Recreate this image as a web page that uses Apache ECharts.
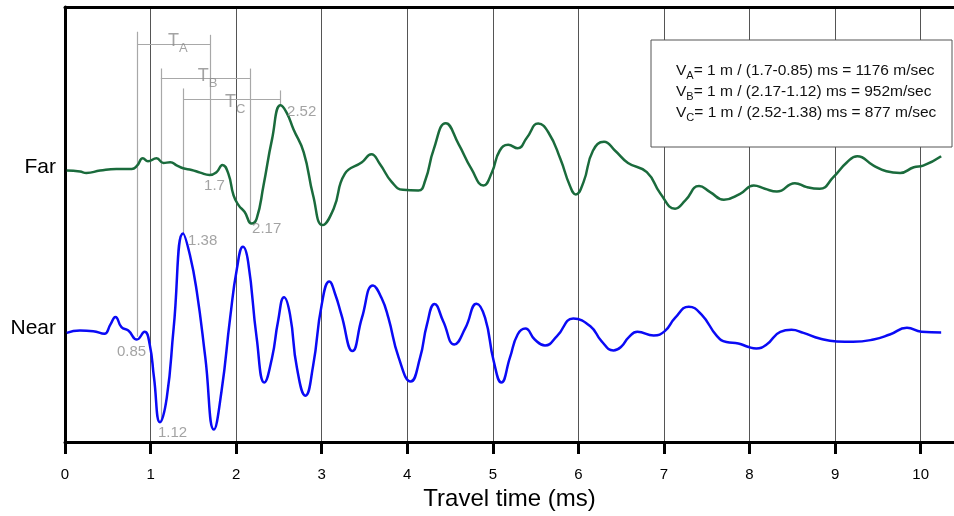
<!DOCTYPE html>
<html>
<head>
<meta charset="utf-8">
<title>Travel time</title>
<script src="https://cdn.jsdelivr.net/npm/echarts@6/dist/echarts.min.js"></script>
<style>
    html, body { margin: 0; padding: 0; background: #fff; }
    #chart { width: 954px; height: 516px; }
</style>
</head>
<body>
<div id="chart"></div>
<script>
(function () {
    "use strict";

    // far receiver trace: travel time (ms) / amplitude above its baseline
    var farTime = [0.02, 0.175, 0.25, 0.41, 0.6, 0.78, 0.84, 0.91, 0.97, 1.07, 1.15, 1.23, 1.31, 1.38, 1.48, 1.58,
        1.69, 1.77, 1.84, 1.91, 1.97, 2.03, 2.10, 2.18, 2.24, 2.32, 2.42, 2.52, 2.59, 2.67, 2.79, 2.90, 3.01, 3.14,
        3.27, 3.47, 3.58, 3.68, 3.82, 3.95, 4.13, 4.21, 4.31, 4.45, 4.60, 4.75, 4.89, 4.99, 5.08, 5.18, 5.29, 5.40,
        5.53, 5.65, 5.79, 5.90, 5.97, 6.06, 6.17, 6.30, 6.43, 6.58, 6.80, 6.96, 7.13, 7.25, 7.41, 7.54, 7.70, 7.89,
        8.05, 8.18, 8.32, 8.53, 8.67, 8.82, 8.98, 9.14, 9.26, 9.45, 9.60, 9.76, 9.92, 10.03, 10.24];
    var farAmp = [-0.7, -1.7, -3, -0.7, 1, 1, 4, 11.7, 8.7, 11.7, 7, 7.7, 4.3, 1.7, 0, -2.7,
        -5, -2.3, 5, -4, -25.7, -35.7, -42.3, -54, -49, -15.7, 31, 65, 57.7, 41, 17.7, -25.7, -55.5, -39,
        -4, 7.7, 15.7, 6, -12.3, -20, -20.7, -10.7, 21, 47, 26, 1, -15.7, -2.3, 19.3, 25.3, 21.7, 32.7,
        46.7, 37.7, 11, -15.7, -24.7, -12.3, 19.3, 28.3, 19.3, 7, -2.3, -24, -39, -30.7, -16.3, -22.3, -30, -24,
        -15.7, -19, -21.7, -13.3, -17.3, -19, -7.3, 7.7, 13.7, 4.3, -1.3, -3, 2.7, 4.3, 13.7];

    // near receiver trace
    var nearTime = [0.02, 0.175, 0.33, 0.46, 0.53, 0.59, 0.66, 0.74, 0.84, 0.93, 0.99, 1.04, 1.11, 1.19, 1.27, 1.38,
        1.46, 1.54, 1.64, 1.74, 1.83, 1.93, 2.01, 2.08, 2.14, 2.24, 2.33, 2.42, 2.49, 2.56, 2.63, 2.71, 2.81, 2.90,
        3.00, 3.09, 3.16, 3.23, 3.36, 3.47, 3.60, 3.70, 3.78, 3.90, 4.04, 4.15, 4.23, 4.32, 4.42, 4.55, 4.68, 4.81,
        4.91, 5.01, 5.10, 5.20, 5.29, 5.38, 5.49, 5.61, 5.75, 5.94, 6.14, 6.27, 6.41, 6.50, 6.59, 6.69, 6.88, 7.01,
        7.13, 7.29, 7.44, 7.62, 7.73, 7.87, 7.99, 8.08, 8.20, 8.36, 8.49, 8.63, 8.82, 9.02, 9.21, 9.45, 9.64, 9.84,
        10.01, 10.24];
    var nearAmp = [0, 2.3, 1.7, -1, 8.3, 16, 5.7, 2.3, -6.7, 1, -11.7, -45, -90, -65, 5, 100,
        78.3, 41.7, -25, -97.3, -58.3, 15, 65, 86.7, 71.7, -5, -50, -25, 11.7, 35.7, 18.3, -35, -63.3, -33,
        28.3, 51.7, 38.3, 18.3, -18.3, 15, 47.7, 35, 15, -25, -49, -25, 8.3, 29, 11.7, -11.7, 5, 29.3,
        15, -28.3, -50, -25, -1.7, 4.3, -6.7, -12.7, -3.3, 14.3, 6.7, -8.3, -17.7, -14, -4.3, 1, -2.7, 1.7,
        15, 26.3, 18.3, -3.3, -9.3, -10.7, -14.3, -15.7, -11.7, 1, 3, 0, -5.7, -8.7, -9, -6.7, -1.7, 5,
        1, 0.3];

    var farBase = 274;
    var nearBase = 110;
    var xTicks = [0, 1, 2, 3, 4, 5, 6, 7, 8, 9, 10];

    // picked times and the brackets between them
    var bracketNames = ['A', 'B', 'C'];
    var bracketStart = [0.85, 1.12, 1.38];
    var bracketEnd = [1.7, 2.17, 2.52];
    var bracketLevel = [401, 366.7, 345];
    var bracketStartTop = [413, 376, 356];
    var bracketEndTop = [410, 376, 354];
    var bracketStartFoot = [106, 20, 210];
    var bracketEndFoot = [270, 221, 339];
    var bracketLabelT = [1.204, 1.551, 1.870];
    var bracketLabelY = [403.5, 368.3, 342];

    var pickText = ['2.52', '1.7', '2.17', '1.38', '0.85', '1.12'];
    var pickLabelT = [2.595, 1.625, 2.186, 1.438, 0.608, 1.087];
    var pickLabelY = [332, 258.3, 215, 202.3, 91, 9];

    var velocityLines = [
        ['A', '= 1 m / (1.7-0.85) ms = 1176 m/sec'],
        ['B', '= 1 m / (2.17-1.12) ms = 952m/sec'],
        ['C', '= 1 m / (2.52-1.38) ms = 877 m/sec']
    ];

    var FONT = '"Liberation Sans", Arial, Helvetica, sans-serif';
    var GRAY = '#8c8c8c';

    var farData = farTime.map(function (t, i) { return [t, farBase + farAmp[i]]; });
    var nearData = nearTime.map(function (t, i) { return [t, nearBase + nearAmp[i]]; });

    var bracketLines = [];
    for (var i = 0; i < bracketNames.length; i++) {
        bracketLines.push([{coord: [bracketStart[i], bracketStartTop[i]]}, {coord: [bracketStart[i], bracketStartFoot[i]]}]);
        bracketLines.push([{coord: [bracketEnd[i], bracketEndTop[i]]}, {coord: [bracketEnd[i], bracketEndFoot[i]]}]);
        bracketLines.push([{coord: [bracketStart[i], bracketLevel[i]]}, {coord: [bracketEnd[i], bracketLevel[i]]}]);
    }

    var textData = [];
    for (var j = 0; j < pickText.length; j++) {
        textData.push({value: [pickLabelT[j], pickLabelY[j]], text: pickText[j], kind: 'pick'});
    }
    for (var k = 0; k < bracketNames.length; k++) {
        textData.push({value: [bracketLabelT[k], bracketLabelY[k]], text: bracketNames[k], kind: 'bracket'});
    }

    var legendText = velocityLines.map(function (l) {
        return '{n|V}{s|' + l[0] + '}{n|' + l[1] + '}';
    }).join('\n');

    var myChart = echarts.init(document.getElementById('chart'));
    var option = {
        backgroundColor: '#fff',
        animation: false,
        grid: {left: 65, right: 0, top: 7, bottom: 71},
        xAxis: [
            {
                type: 'value',
                min: 0,
                max: 10.39,
                interval: 1,
                name: 'Travel time (ms)',
                nameLocation: 'middle',
                nameGap: 43,
                nameTextStyle: {fontFamily: FONT, fontSize: 24, color: '#000'},
                axisLine: {show: true, onZero: false, lineStyle: {color: '#000', width: 3}},
                axisTick: {show: true, customValues: xTicks, length: 12, lineStyle: {color: '#000', width: 3}},
                axisLabel: {customValues: xTicks, margin: 25, fontFamily: FONT, fontSize: 15, color: '#000'},
                splitLine: {show: true, lineStyle: {color: '#555', width: 1}}
            },
            {
                type: 'value',
                position: 'top',
                min: 0,
                max: 10.39,
                axisLine: {show: true, onZero: false, lineStyle: {color: '#000', width: 3}},
                axisTick: {show: false},
                axisLabel: {show: false},
                splitLine: {show: false}
            }
        ],
        yAxis: {
            type: 'value',
            min: 0,
            max: 438,
            axisLine: {show: true, onZero: false, lineStyle: {color: '#000', width: 3}},
            axisTick: {show: false},
            splitLine: {show: false},
            axisLabel: {
                customValues: [farBase + 3, nearBase + 5],
                margin: 9,
                fontFamily: FONT,
                fontSize: 21,
                color: '#000',
                formatter: function (v) { return v > 200 ? 'Far' : 'Near'; }
            }
        },
        series: [
            {
                name: 'Far',
                type: 'line',
                smooth: 0.5,
                symbol: 'none',
                data: farData,
                lineStyle: {color: '#1a6b3c', width: 2.5},
                z: 3,
                markLine: {
                    silent: true,
                    symbol: 'none',
                    label: {show: false},
                    lineStyle: {color: '#a8a8a8', width: 1.2, type: 'solid'},
                    data: bracketLines,
                    z: 1
                }
            },
            {
                name: 'Near',
                type: 'line',
                smooth: 0.5,
                symbol: 'none',
                data: nearData,
                lineStyle: {color: '#0a0af5', width: 2.5},
                z: 3
            },
            {
                name: 'labels',
                type: 'scatter',
                symbolSize: 0,
                silent: true,
                data: textData,
                z: 4,
                label: {
                    show: true,
                    position: 'right',
                    distance: 0,
                    fontFamily: FONT,
                    color: GRAY,
                    formatter: function (p) {
                        if (p.data.kind === 'bracket') {
                            return '{t|T}{s|' + p.data.text + '}';
                        }
                        return '{p|' + p.data.text + '}';
                    },
                    rich: {
                        p: {fontFamily: FONT, fontSize: 15, color: GRAY},
                        t: {fontFamily: FONT, fontSize: 18, lineHeight: 28, color: GRAY},
                        s: {fontFamily: FONT, fontSize: 13, lineHeight: 13, verticalAlign: 'bottom', color: GRAY}
                    }
                }
            }
        ],
        graphic: [
            {
                type: 'rect',
                shape: {x: 651, y: 40, width: 301, height: 107},
                style: {fill: '#fff', stroke: '#555', lineWidth: 1},
                z: 10
            },
            {
                type: 'text',
                x: 676,
                y: 60,
                z: 11,
                style: {
                    text: legendText,
                    fontFamily: FONT,
                    rich: {
                        n: {fontFamily: FONT, fontSize: 15.5, lineHeight: 21, fill: '#111'},
                        s: {fontFamily: FONT, fontSize: 11, lineHeight: 11, verticalAlign: 'bottom', fill: '#111'}
                    }
                }
            }
        ]
    };
    myChart.setOption(option);
})();
</script>
</body>
</html>
